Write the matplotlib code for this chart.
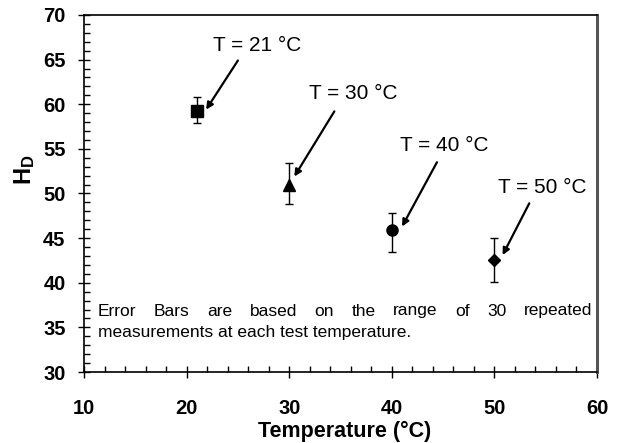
import numpy as np
import matplotlib
matplotlib.use("Agg")
import matplotlib.pyplot as plt
from matplotlib.ticker import MultipleLocator

plt.rcParams['font.family'] = ['Liberation Sans', 'DejaVu Sans']
plt.rcParams['mathtext.fontset'] = 'custom'
plt.rcParams['mathtext.rm'] = 'Liberation Sans'
plt.rcParams['mathtext.bf'] = 'Liberation Sans:bold'

# measured hardness vs. test temperature
temps = [21, 30, 40, 50]
hd_mean = [59.2, 51.0, 45.9, 42.5]
hd_low = [57.9, 48.8, 43.5, 40.1]
hd_high = [60.8, 53.4, 47.8, 45.0]
markers = ['s', '^', 'o', 'D']
marker_sizes = [8, 8, 8, 6]

# annotation labels: text position, arrow tail, arrow head (data coords)
labels = ["T = 21 °C", "T = 30 °C", "T = 40 °C", "T = 50 °C"]
label_xy = [(26.9, 66.6), (36.2, 61.2), (45.1, 55.4), (54.7, 50.7)]
arrow_from = [(25.0, 64.9), (34.4, 59.2), (44.4, 53.5), (53.4, 48.9)]
arrow_to = [(21.9, 59.4), (30.5, 51.9), (41.0, 46.3), (50.8, 43.1)]

note_line1 = "Error Bars are based on the range of 30 repeated"
note_line2 = "measurements at each test temperature."

fig = plt.figure(figsize=(6.18, 4.43), dpi=100)
ax = fig.add_axes([84 / 618, 1 - 372 / 443, (597 - 84) / 618, (372 - 15) / 443])

for i in range(len(temps)):
    yerr = [[hd_mean[i] - hd_low[i]], [hd_high[i] - hd_mean[i]]]
    ax.errorbar([temps[i]], [hd_mean[i]], yerr=yerr, fmt=markers[i],
                color='black', ms=marker_sizes[i], ecolor='black',
                elinewidth=1, capsize=3, capthick=1)

for lab, txy, a0, a1 in zip(labels, label_xy, arrow_from, arrow_to):
    ax.text(txy[0], txy[1], lab, ha='center', va='center', fontsize=15)
    ax.annotate("", xy=a1, xytext=a0,
                arrowprops=dict(arrowstyle='-|>', color='black', lw=1.6,
                                mutation_scale=10, shrinkA=0, shrinkB=0))

ax.set_xlim(10, 60)
ax.set_ylim(30, 70)
ax.xaxis.set_major_locator(MultipleLocator(10))
ax.xaxis.set_minor_locator(MultipleLocator(2))
ax.yaxis.set_major_locator(MultipleLocator(5))
ax.yaxis.set_minor_locator(MultipleLocator(1))
ax.tick_params(which='major', direction='inout', length=8.6, width=1, labelsize=14.5)
ax.tick_params(which='minor', direction='in', length=4.3, width=1)
ax.tick_params(axis='x', which='major', pad=15)
ax.tick_params(axis='y', which='major', pad=9)
for lbl in ax.get_xticklabels() + ax.get_yticklabels():
    lbl.set_fontweight('bold')
for s in ax.spines.values():
    s.set_linewidth(1.2)
ax.spines['right'].set_color('#555555')
ax.spines['right'].set_linewidth(2.2)

ax.set_xlabel("Temperature (°C)", fontsize=15.5, fontweight='bold', va='top')
ax.xaxis.set_label_coords(0.508, -0.138)
ax.set_ylabel(r"$\mathbf{H_D}$", fontsize=17, va='center')
ax.yaxis.set_label_coords(-0.115, 0.566)

# justified note: first line spread across the box, second left aligned
fig.canvas.draw()
renderer = fig.canvas.get_renderer()
x_left, x_right = 98, 592
y1, y2 = 443 - 311, 443 - 333
words = note_line1.split()
texts = [fig.text(0, 0, w, fontsize=12.5, ha='left', va='center') for w in words]
widths = [t.get_window_extent(renderer).width for t in texts]
gap = (x_right - x_left - sum(widths)) / (len(words) - 1)
x = x_left
for t, w in zip(texts, widths):
    t.set_position((x / 618, y1 / 443))
    x += w + gap
fig.text(x_left / 618, y2 / 443, note_line2, fontsize=12.5, ha='left', va='center')

fig.savefig("out.png", dpi=100)
